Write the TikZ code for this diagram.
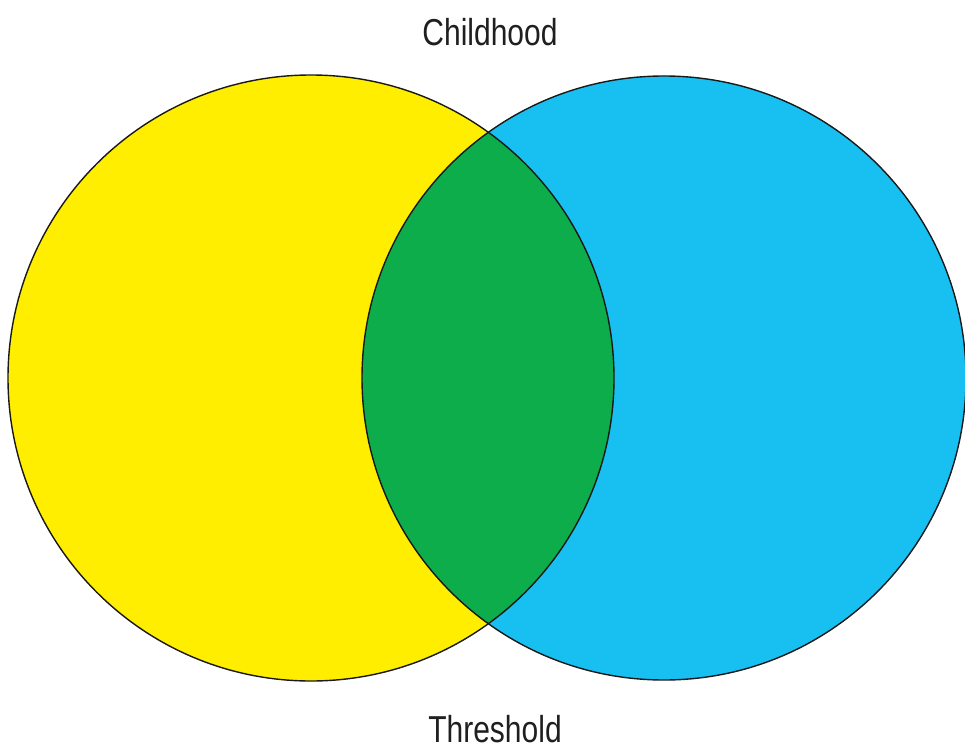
\documentclass[tikz,border=0pt]{standalone}
\usepackage{fontspec}
\setmainfont{Liberation Sans}[FakeStretch=0.8]
\definecolor{vyellow}{HTML}{FFEE00}
\definecolor{vcyan}{HTML}{18C0F1}
\definecolor{vgreen}{HTML}{0DAD4B}
\begin{document}
\begin{tikzpicture}[x=1pt,y=-1pt,
  circ/.style={draw=black!90,line width=1.4pt},
  lbl/.style={font=\fontsize{37.5}{40}\selectfont,text=black!88,inner sep=0pt}]
\useasboundingbox (0,0) rectangle (965,749);
\coordinate (L) at (311,378);
\coordinate (R) at (664,378);
\fill[vyellow] (L) circle (303);
\fill[vcyan] (R) circle (302);
\begin{scope}
  \clip (L) circle (303);
  \fill[vgreen] (R) circle (302);
\end{scope}
\draw[circ] (L) circle (303);
\draw[circ] (R) circle (302);
\node[lbl] (top) at (490,32) {Childhood};
\node[lbl] (bot) at (495,729) {Threshold};
\end{tikzpicture}
\end{document}
